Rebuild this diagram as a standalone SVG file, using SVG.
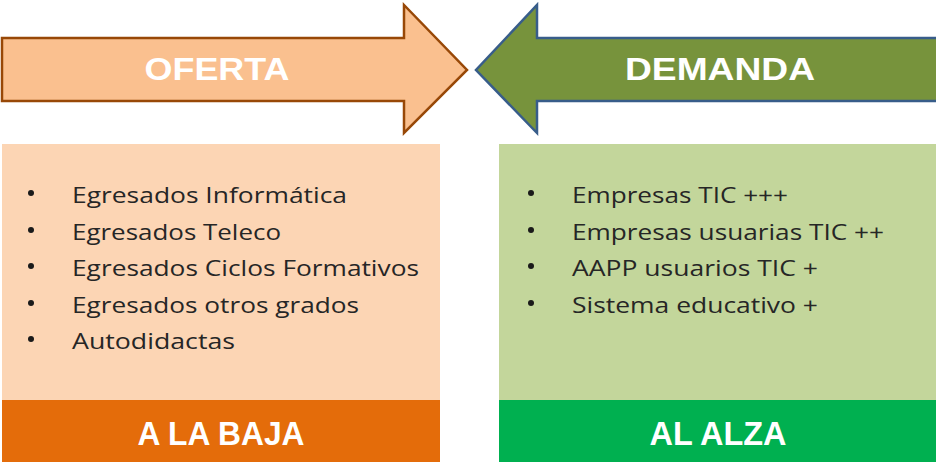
<svg xmlns="http://www.w3.org/2000/svg" width="936" height="462" viewBox="0 0 936 462">
<style>
.hdr{font-family:"Liberation Sans",Arial,sans-serif;font-weight:bold;fill:#ffffff;text-anchor:middle}
.item{font-family:"Open Sans","Liberation Sans",sans-serif;font-size:22px;fill:#262626}
.dot{fill:#1a1a1a}
</style>
<rect width="936" height="462" fill="#ffffff"/>
<g id="oferta-arrow">
<path d="M2,38 L404,38 L404,5 L467,70 L404,133 L404,101 L2,101 Z" fill="#FAC08F" stroke="#984807" stroke-width="2.5" stroke-linejoin="miter"/>
<text class="hdr" x="217" y="80" font-size="32" textLength="145" lengthAdjust="spacingAndGlyphs">OFERTA</text>
</g>
<g id="demanda-arrow">
<path d="M936,38 L537,38 L537,5 L476,70 L537,133 L537,101 L936,101" fill="#77933C" stroke="#385D8A" stroke-width="2.5" stroke-linejoin="miter"/>
<text class="hdr" x="720" y="80" font-size="32" textLength="190" lengthAdjust="spacingAndGlyphs">DEMANDA</text>
</g>
<g id="oferta-box">
<rect x="2" y="144" width="438" height="256" fill="#FCD5B4"/>
<rect x="2" y="400" width="438" height="62" fill="#E46C0A"/>
<circle class="dot" cx="31" cy="193" r="3"/>
<circle class="dot" cx="31" cy="230" r="3"/>
<circle class="dot" cx="31" cy="266" r="3"/>
<circle class="dot" cx="31" cy="303" r="3"/>
<circle class="dot" cx="31" cy="339" r="3"/>
<text class="item" x="72" y="203" textLength="275" lengthAdjust="spacingAndGlyphs">Egresados Informática</text>
<text class="item" x="72" y="240" textLength="209" lengthAdjust="spacingAndGlyphs">Egresados Teleco</text>
<text class="item" x="72" y="276" textLength="347" lengthAdjust="spacingAndGlyphs">Egresados Ciclos Formativos</text>
<text class="item" x="72" y="313" textLength="287" lengthAdjust="spacingAndGlyphs">Egresados otros grados</text>
<text class="item" x="72" y="349" textLength="163" lengthAdjust="spacingAndGlyphs">Autodidactas</text>
<text class="hdr" x="221" y="445" font-size="33" textLength="167" lengthAdjust="spacingAndGlyphs">A LA BAJA</text>
</g>
<g id="demanda-box">
<rect x="499" y="144" width="437" height="256" fill="#C3D69B"/>
<rect x="499" y="400" width="437" height="62" fill="#00B050"/>
<circle class="dot" cx="531" cy="193" r="3"/>
<circle class="dot" cx="531" cy="230" r="3"/>
<circle class="dot" cx="531" cy="266" r="3"/>
<circle class="dot" cx="531" cy="303" r="3"/>
<text class="item" x="572" y="203" textLength="216" lengthAdjust="spacingAndGlyphs">Empresas TIC +++</text>
<text class="item" x="572" y="240" textLength="312" lengthAdjust="spacingAndGlyphs">Empresas usuarias TIC ++</text>
<text class="item" x="572" y="276" textLength="246" lengthAdjust="spacingAndGlyphs">AAPP usuarios TIC +</text>
<text class="item" x="572" y="313" textLength="246" lengthAdjust="spacingAndGlyphs">Sistema educativo +</text>
<text class="hdr" x="718" y="445" font-size="33" textLength="137" lengthAdjust="spacingAndGlyphs">AL ALZA</text>
</g>
<g id="connectors"/>
</svg>
